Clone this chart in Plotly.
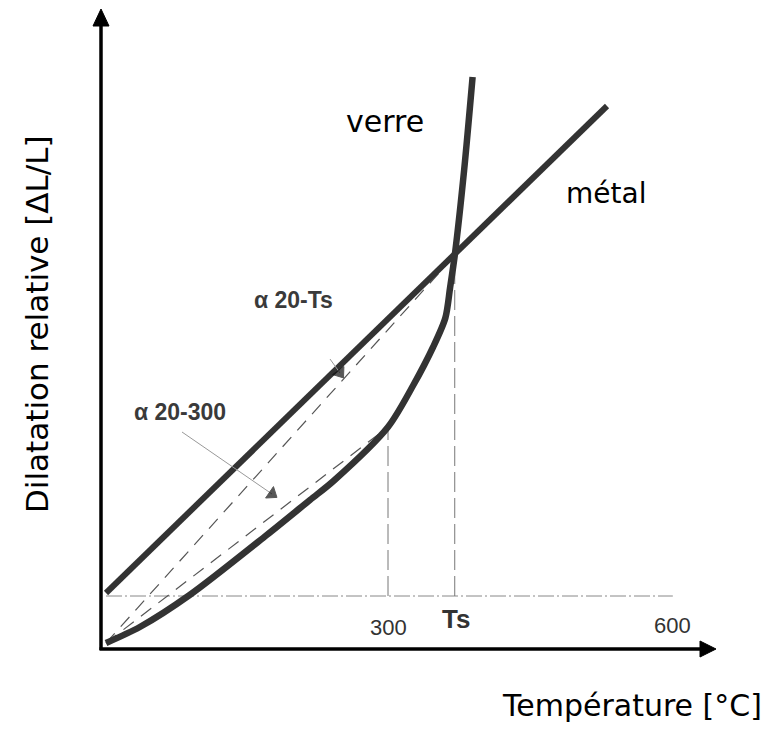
import plotly.graph_objects as go

# ---------------- data ----------------
temp_verre = [0, 36, 89, 171, 217, 242, 300, 327, 348, 361, 366, 371, 381, 390]
dil_verre = [0, 0.32, 0.96, 2.16, 2.86, 3.24, 4.32, 5.16, 5.92, 6.5, 7.1, 7.75, 9.46, 11.32]
temp_metal = [0, 533]
dil_metal = [1.0, 10.74]
Ts = 371
T300 = 300
ref_level = 0.94
ref_end = 603
tick_values = [300, Ts, 600]
tick_labels = ["300", "Ts", "600"]

# ---------------- layout helpers ----------------
OFF = 8                 # page body margin
W, H = 781 - OFF, 729 - OFF
L, R, T_, B = 100 - OFF, 66, 9 - OFF, 80
PX0, PXS = 106, 0.94   # page pixel of T=0, pixels per degree
PY0, PYS = 643, 50     # page pixel of y=0, pixels per unit


def dx(px):
    return (px - PX0) / PXS


def dy(py):
    return (PY0 - py) / PYS


def pxp(px):
    return (px - OFF - L) / (W - L - R)


def pyp(py):
    return (H - B - (py - OFF)) / (H - T_ - B)


y_ts = dil_verre[temp_verre.index(Ts)]
y_300 = dil_verre[temp_verre.index(T300)]

CURVE = "#333333"
DASH = "#555555"
FONT_H = "DejaVu Sans"
FONT_A = "Liberation Sans"

fig = go.Figure()

# reference dash-dot level
fig.add_trace(go.Scatter(x=[temp_verre[0], ref_end], y=[ref_level, ref_level], mode="lines",
                         line=dict(color="#888888", width=1, dash="16px,3px,2px,3px"),
                         hoverinfo="skip", showlegend=False))
# vertical dashed at 300 and Ts
fig.add_trace(go.Scatter(x=[T300, T300], y=[ref_level, y_300], mode="lines",
                         line=dict(color="#777777", width=1, dash="20px,6px"),
                         hoverinfo="skip", showlegend=False))
fig.add_trace(go.Scatter(x=[Ts, Ts], y=[ref_level, y_ts], mode="lines",
                         line=dict(color="#777777", width=1, dash="20px,6px"),
                         hoverinfo="skip", showlegend=False))
# secants
fig.add_trace(go.Scatter(x=[temp_verre[0], Ts], y=[dil_verre[0], y_ts], mode="lines",
                         line=dict(color=DASH, width=1.2, dash="13px,9px"),
                         hoverinfo="skip", showlegend=False))
fig.add_trace(go.Scatter(x=[temp_verre[0], T300], y=[dil_verre[0], y_300], mode="lines",
                         line=dict(color=DASH, width=1.2, dash="13px,9px"),
                         hoverinfo="skip", showlegend=False))

# metal line
fig.add_trace(go.Scatter(x=temp_metal, y=dil_metal, mode="lines",
                         line=dict(color=CURVE, width=6),
                         hoverinfo="skip", showlegend=False))
# glass curve
fig.add_trace(go.Scatter(x=temp_verre, y=dil_verre, mode="lines",
                         line=dict(color=CURVE, width=6.5, shape="spline", smoothing=0.8),
                         hoverinfo="skip", showlegend=False))

# leader arrows
for (p0, p1) in [((182, 432), (272, 494)), ((330, 359), (340, 373))]:
    fig.add_trace(go.Scatter(x=[dx(p0[0]), dx(p1[0])], y=[dy(p0[1]), dy(p1[1])],
                             mode="lines+markers",
                             line=dict(color="#999999", width=1),
                             marker=dict(symbol="triangle-up", size=[0, 12], color="#111111",
                                         line=dict(color="#111111", width=1),
                                         angleref="previous"),
                             hoverinfo="skip", showlegend=False))

shapes = []
# axes
shapes.append(dict(type="line", xref="paper", yref="paper", x0=pxp(101), x1=pxp(101),
                   y0=pyp(650), y1=pyp(22), line=dict(color="black", width=3.5)))
shapes.append(dict(type="line", xref="paper", yref="paper", x0=pxp(99.5), x1=pxp(703),
                   y0=pyp(649), y1=pyp(649), line=dict(color="black", width=3.5)))
# arrowheads
shapes.append(dict(type="path", xref="paper", yref="paper",
                   path=f"M {pxp(101)},{pyp(9)} L {pxp(93)},{pyp(26)} L {pxp(109)},{pyp(26)} Z",
                   fillcolor="black", line=dict(color="black", width=1)))
shapes.append(dict(type="path", xref="paper", yref="paper",
                   path=f"M {pxp(716)},{pyp(649)} L {pxp(700)},{pyp(641)} L {pxp(700)},{pyp(657)} Z",
                   fillcolor="black", line=dict(color="black", width=1)))

C = dict(xanchor="center", yanchor="middle", showarrow=False)
annotations = [
    dict(x=dx(385), y=dy(121), xref="x", yref="y", text="verre",
         font=dict(family=FONT_H, size=30, color="black"), **C),
    dict(x=dx(606), y=dy(193), xref="x", yref="y", text="métal",
         font=dict(family=FONT_H, size=28, color="black"), **C),
    dict(x=dx(293), y=dy(300), xref="x", yref="y", text="<b>α 20-Ts</b>",
         font=dict(family=FONT_A, size=23, color="#3a3a3a"), **C),
    dict(x=dx(180), y=dy(412), xref="x", yref="y", text="<b>α 20-300</b>",
         font=dict(family=FONT_A, size=23, color="#3a3a3a"), **C),
    dict(x=tick_values[0], y=dy(627), xref="x", yref="y", text=tick_labels[0],
         font=dict(family=FONT_A, size=22, color="#333333"), **C),
    dict(x=tick_values[1] + dx(456) - dx(455), y=dy(619), xref="x", yref="y",
         text="<b>" + tick_labels[1] + "</b>",
         font=dict(family=FONT_A, size=26, color="#333333"), **C),
    dict(x=tick_values[2] + dx(672) - dx(670), y=dy(625), xref="x", yref="y",
         text=tick_labels[2],
         font=dict(family=FONT_A, size=22, color="#333333"), **C),
    dict(x=pxp(632), y=pyp(705), xref="paper", yref="paper", text="Température [°C]",
         font=dict(family=FONT_H, size=30, color="black"), **C),
    dict(x=pxp(37), y=pyp(324), xref="paper", yref="paper", text="Dilatation relative [ΔL/L]",
         textangle=-90, font=dict(family=FONT_H, size=31, color="black"), **C),
]

fig.update_layout(
    width=W, height=H,
    margin=dict(l=L, r=R, t=T_, b=B, pad=0),
    paper_bgcolor="white", plot_bgcolor="white",
    xaxis=dict(range=[dx(L + OFF), dx(W + OFF - R)], visible=False, fixedrange=True),
    yaxis=dict(range=[dy(H + OFF - B), dy(T_ + OFF)], visible=False, fixedrange=True),
    shapes=shapes, annotations=annotations, showlegend=False,
)

fig.write_html("out.html")
